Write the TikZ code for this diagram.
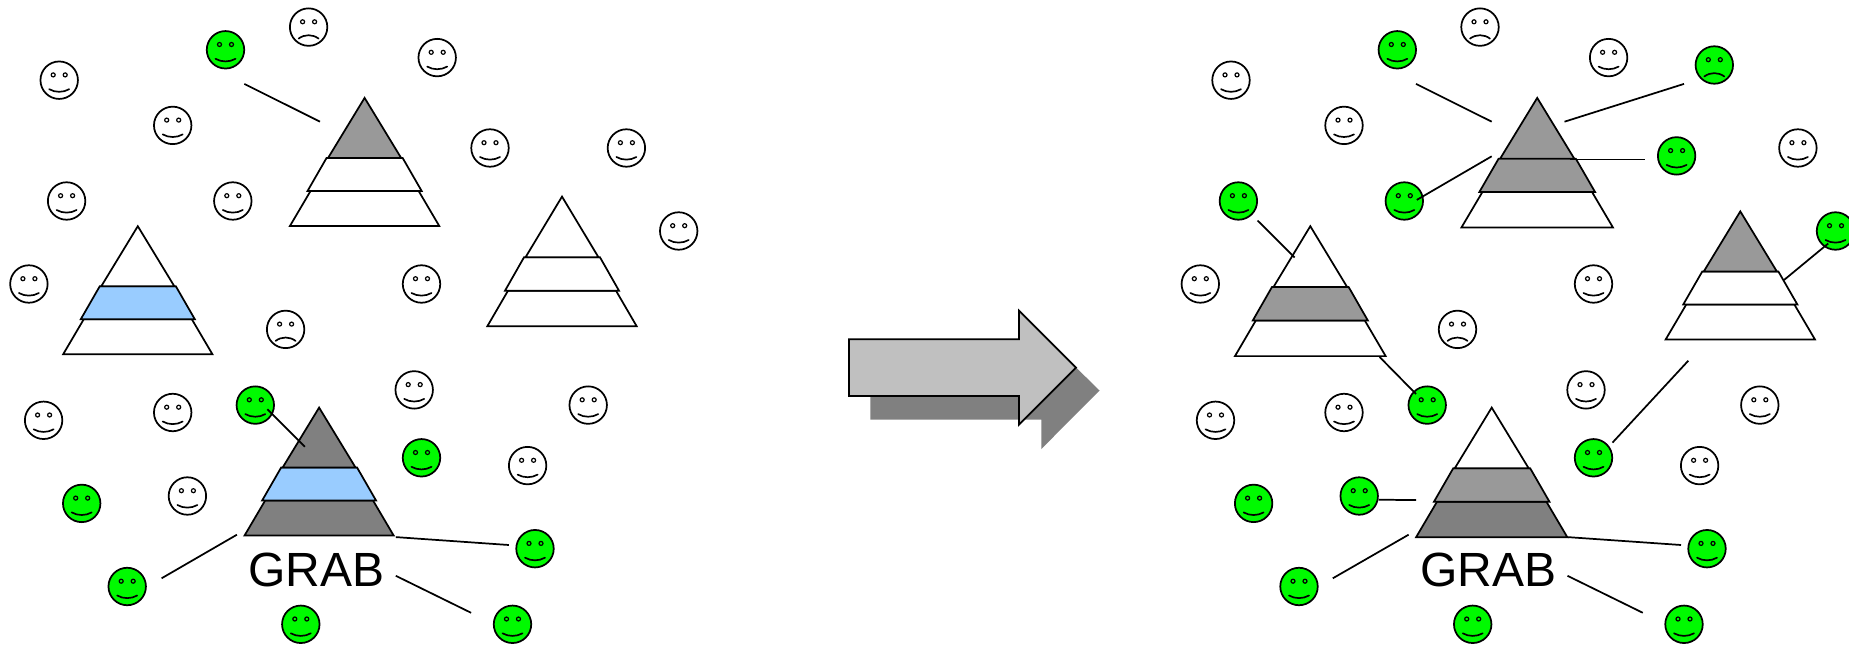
\documentclass[tikz,border=0pt]{standalone}
\usepackage{fontspec}
\setmainfont{Liberation Sans}
\definecolor{facegreen}{HTML}{00FA00}
\definecolor{tiergrey}{HTML}{999999}
\definecolor{tierdark}{HTML}{808080}
\definecolor{tierblue}{HTML}{99CCFF}
\definecolor{arrowgrey}{HTML}{C0C0C0}
\tikzset{
  facebody/.style={circle,draw=black,line width=1.3pt,minimum size=28.1pt,inner sep=0pt,outer sep=0pt},
  whiteface/.style={facebody,fill=white},
  greenface/.style={facebody,fill=facegreen},
  facemark/.style={draw=black,line width=1.25pt,line cap=round},
  tier/.style={draw=black,line width=1.3pt,line join=miter},
  link/.style={draw=black,line width=1.3pt},
  caption/.style={inner sep=0pt,font=\fontsize{36}{40}\selectfont,text=black}
}
\newcommand{\faceeyes}[2]{%
  \draw[draw=black,line width=.9pt] ({#1-6},{#2-5.3}) circle[radius=1.5pt];
  \draw[draw=black,line width=.9pt] ({#1+6},{#2-5.3}) circle[radius=1.5pt];}
% name, x, y, style
\newcommand{\smiler}[4]{%
  \node[#4] (#1) at (#2,#3) {};
  \faceeyes{#2}{#3}
  \draw[facemark] ({#2-10},{#3+9}) .. controls ({#2-4},{#3+12.5}) and ({#2+4},{#3+12.5}) .. ({#2+10},{#3+9});}
\newcommand{\frowner}[4]{%
  \node[#4] (#1) at (#2,#3) {};
  \faceeyes{#2}{#3}
  \draw[facemark] ({#2-10},{#3+11.5}) .. controls ({#2-4},{#3+7}) and ({#2+4},{#3+7}) .. ({#2+10},{#3+11.5});}
% apex x, apex y, xscale, yscale, top colour, middle colour, bottom colour
\newcommand{\pyramid}[7]{%
  \begin{scope}[shift={(#1,#2)},xscale=#3,yscale=#4]
    \draw[tier,fill=#7] (-54,93) -- (54,93) -- (74.6,128) -- (-74.6,128) -- cycle;
    \draw[tier,fill=#6] (-38,60) -- (38,60) -- (57,93) -- (-57,93) -- cycle;
    \draw[tier,fill=#5] (0,0) -- (36.5,60) -- (-36.5,60) -- cycle;
  \end{scope}}
\newcommand{\linkseg}[5]{%
  \coordinate (#1a) at (#2,#3);
  \coordinate (#1b) at (#4,#5);
  \draw[link] (#1a) -- (#1b);}
\begin{document}
\begin{tikzpicture}[x=0.75pt,y=-0.75pt]
\useasboundingbox (0,0) rectangle (1849,645);
\clip (0,0) rectangle (1849,645);
\fill[white] (0,0) rectangle (1849,645);
% ---------- left panel ----------
\pyramid{364.6}{97.9}{1}{1}{tiergrey}{white}{white}
\pyramid{137.8}{226.2}{1}{1}{white}{tierblue}{white}
\pyramid{562}{196.6}{1}{1.012}{white}{white}{white}
\pyramid{319.1}{407.6}{1}{1}{tierdark}{tierblue}{tierdark}
\smiler{la}{59.2}{80.2}{whiteface}
\smiler{lb}{172.7}{125.4}{whiteface}
\smiler{lc}{437.2}{57.6}{whiteface}
\smiler{ld}{490}{148}{whiteface}
\smiler{le}{626.4}{148}{whiteface}
\smiler{lf}{66.6}{201}{whiteface}
\smiler{lg}{232.8}{201}{whiteface}
\smiler{lh}{678.7}{231}{whiteface}
\smiler{li}{28.9}{284}{whiteface}
\smiler{lj}{421.5}{284}{whiteface}
\smiler{lk}{43.6}{420.3}{whiteface}
\smiler{ll}{172.7}{412.5}{whiteface}
\smiler{lm}{414.2}{389.9}{whiteface}
\smiler{ln}{588.2}{405.1}{whiteface}
\smiler{lo}{527.6}{465.6}{whiteface}
\smiler{lp}{187.4}{496}{whiteface}
\frowner{lq}{308.6}{27.1}{whiteface}
\frowner{lr}{285.6}{329.4}{whiteface}
\smiler{ls}{225.5}{49.8}{greenface}
\smiler{lt}{255.3}{405.1}{greenface}
\smiler{lu}{421.5}{457.8}{greenface}
\smiler{lv}{81.7}{503.4}{greenface}
\smiler{lw}{535}{548.7}{greenface}
\smiler{lx}{127.2}{586.5}{greenface}
\smiler{ly}{300.8}{624.3}{greenface}
\smiler{lz}{512.5}{624.3}{greenface}
\linkseg{ca}{244.3}{83.9}{320}{121.7}
\linkseg{cb}{267.3}{409.2}{304.9}{446.7}
\linkseg{cc}{236.9}{534.7}{161.6}{578.3}
\linkseg{cd}{395.8}{537.1}{508.8}{545}
\linkseg{ce}{395.8}{575.8}{471.1}{612.8}
\node[caption] (grableft) at (316.3,570) {GRAB};
% ---------- block arrow ----------
\fill[tierdark] (870.3,362) -- (1041.3,362) -- (1041.3,333.4) -- (1099.5,390.5) -- (1041.3,449) -- (1041.3,419.5) -- (870.3,419.5) -- cycle;
\draw[fill=arrowgrey,draw=black,line width=1.35pt,line join=miter] (849,339.3) -- (1019,339.3) -- (1019,310.7) -- (1076,367.7) -- (1019,424.7) -- (1019,396) -- (849,396) -- cycle;
% ---------- right panel ----------
\pyramid{1537.2}{97.9}{1.015}{1.012}{tiergrey}{tiergrey}{white}
\pyramid{1310.3}{226.2}{1.01}{1.015}{white}{tiergrey}{white}
\pyramid{1740.3}{211.4}{1}{1}{tiergrey}{white}{white}
\pyramid{1491.7}{407.6}{1.013}{1.012}{white}{tiergrey}{tierdark}
\smiler{ra}{1231}{80.2}{whiteface}
\smiler{rb}{1344}{125.4}{whiteface}
\smiler{rc}{1608.6}{57.6}{whiteface}
\smiler{rd}{1797.9}{148}{whiteface}
\smiler{re}{1200.3}{284}{whiteface}
\smiler{rf}{1593.5}{284}{whiteface}
\smiler{rg}{1215.5}{420.3}{whiteface}
\smiler{rh}{1344}{412.5}{whiteface}
\smiler{ri}{1586}{389.9}{whiteface}
\smiler{rj}{1759.8}{405.1}{whiteface}
\smiler{rk}{1699.6}{465.6}{whiteface}
\frowner{rl}{1480}{27.1}{whiteface}
\frowner{rm}{1457.5}{329.4}{whiteface}
\smiler{rn}{1397.3}{49.8}{greenface}
\smiler{ro}{1676.6}{155.9}{greenface}
\smiler{rp}{1404.3}{201}{greenface}
\smiler{rq}{1238.4}{201}{greenface}
\smiler{rr}{1835.5}{231}{greenface}
\smiler{rs}{1427.2}{405.1}{greenface}
\smiler{rt}{1593.5}{457.8}{greenface}
\smiler{ru}{1253.6}{503.4}{greenface}
\smiler{rv}{1359.2}{496}{greenface}
\smiler{rw}{1707}{548.7}{greenface}
\smiler{rx}{1299}{586.5}{greenface}
\smiler{ry}{1472.7}{624.3}{greenface}
\smiler{rz}{1684}{624.3}{greenface}
\frowner{rgf}{1714.3}{65}{greenface}
\linkseg{da}{1416}{83.9}{1491.7}{121.7}
\linkseg{db}{1564.5}{121.7}{1684}{83.9}
\linkseg{dc}{1570}{159.5}{1645.4}{159.5}
\linkseg{dd}{1491.7}{156.3}{1416.8}{199.9}
\linkseg{de}{1257.5}{220.5}{1294.7}{257.5}
\linkseg{df}{1379.6}{357}{1416}{394}
\linkseg{dg}{1784}{280}{1828.2}{243.5}
\linkseg{dh}{1688.3}{360.7}{1612.5}{442.6}
\linkseg{di}{1378.7}{499.7}{1416}{500.1}
\linkseg{dj}{1408.6}{534.7}{1332.8}{578.3}
\linkseg{dk}{1567.5}{537.1}{1681}{545}
\linkseg{dl}{1567.5}{575.8}{1642.8}{612.8}
\node[caption] (grabright) at (1488,570) {GRAB};
\end{tikzpicture}
\end{document}
